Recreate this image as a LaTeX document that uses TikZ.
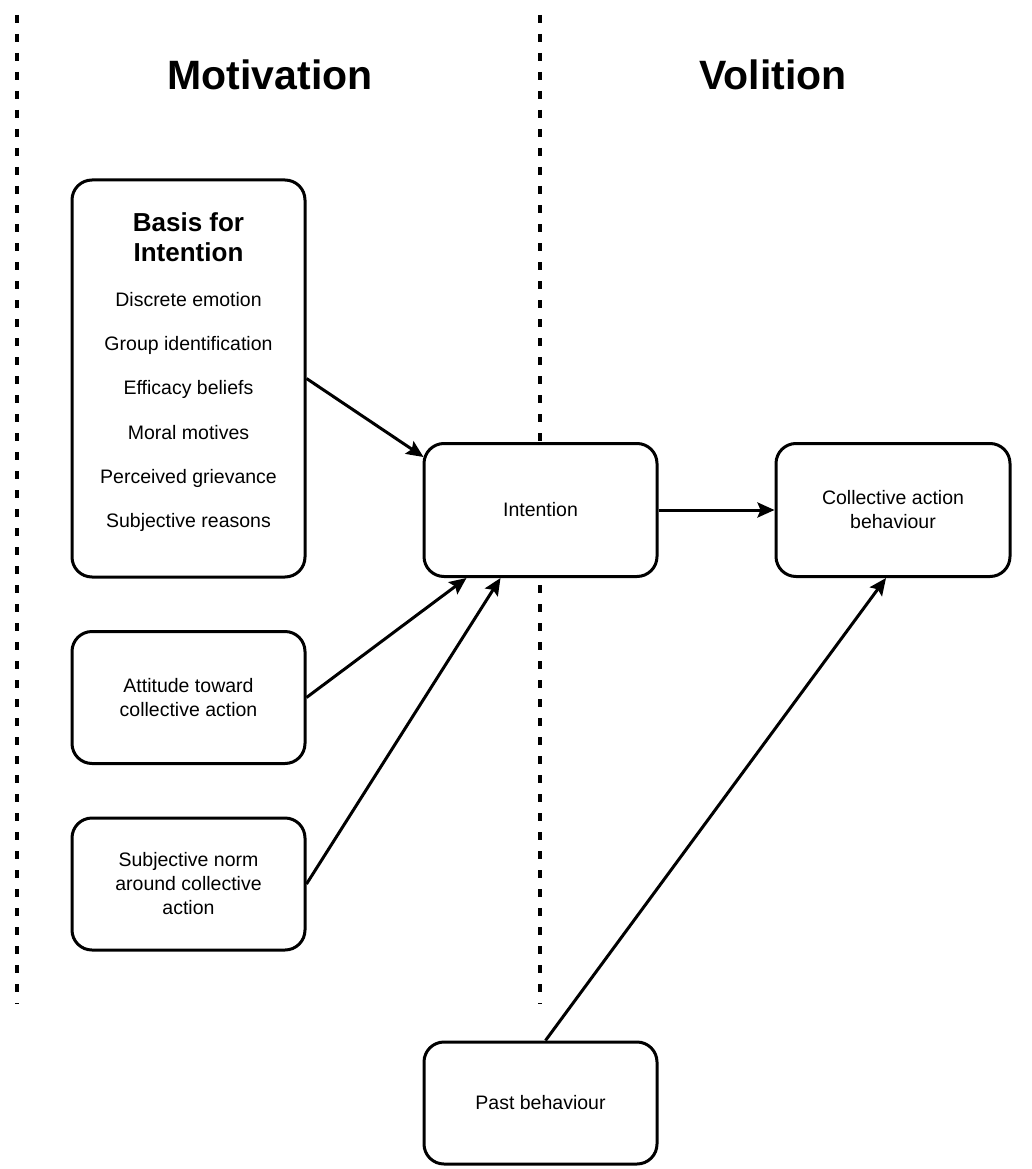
\documentclass[tikz,border=0pt]{standalone}
\usepackage{fontspec}
\setmainfont{Liberation Sans}
\usetikzlibrary{arrows.meta,calc}
\begin{document}
\begin{tikzpicture}[x=1pt,y=-1pt,
  box/.style={draw=black,line width=3pt,rounded corners=20pt,fill=white,inner sep=0pt},
  txt/.style={font=\fontsize{19.5}{24}\selectfont,align=center,inner sep=0pt},
  ttl/.style={font=\fontsize{41}{48}\selectfont\bfseries,inner sep=0pt},
  sep/.style={line width=4.5pt,dash pattern=on 8pt off 11pt},
  arr/.style={line width=3pt,-{Stealth[length=17pt,width=15pt,inset=3pt]}}]
\useasboundingbox (0,0) rectangle (1031,1169);
% separators
\coordinate (s1a) at (17,15);
\coordinate (s1b) at (17,1004);
\coordinate (s2a) at (540,15);
\coordinate (s2b) at (540,1004);
\draw[sep] (s1a) -- (s1b);
\draw[sep] (s2a) -- (s2b);
% titles
\node[ttl] (mot) at (270,75) {Motivation};
\node[ttl] (vol) at (773,75) {Volition};
% boxes
\node[box,minimum width=233pt,minimum height=397pt] (basis) at (188.5,378.5) {};
\node[font=\fontsize{26}{30}\selectfont\bfseries,align=center,inner sep=0pt] (bt) at (188.5,237) {Basis for\\Intention};
\node[txt] (i1) at (188.5,300) {Discrete emotion};
\node[txt] (i2) at (188.5,345) {Group identification};
\node[txt] (i3) at (188.5,389) {Efficacy beliefs};
\node[txt] (i4) at (188.5,433) {Moral motives};
\node[txt] (i5) at (188.5,478) {Perceived grievance};
\node[txt] (i6) at (188.5,522) {Subjective reasons};
\node[box,txt,minimum width=233pt,minimum height=132pt] (att) at (188.5,697.5) {Attitude toward\\collective action};
\node[box,txt,minimum width=233pt,minimum height=132pt] (norm) at (188.5,884) {Subjective norm\\around collective\\action};
\node[box,txt,minimum width=233pt,minimum height=133pt] (int) at (540.5,510) {Intention};
\node[box,txt,minimum width=234pt,minimum height=133pt] (coll) at (893,510) {Collective action\\behaviour};
\node[box,txt,minimum width=233pt,minimum height=122pt] (past) at (540.5,1103) {Past behaviour};
% arrows
\draw[arr] (basis.east) -- ($(int.north west)+(1,15)$);
\draw[arr] (int.east) -- (coll.west);
\draw[arr] (att.east) -- ($(int.south west)+(44,0)$);
\draw[arr] (norm.east) -- ($(int.south west)+(78,0)$);
\draw[arr] ($(past.north)+(5,0)$) -- ($(coll.south)+(-7,0)$);
\end{tikzpicture}
\end{document}
